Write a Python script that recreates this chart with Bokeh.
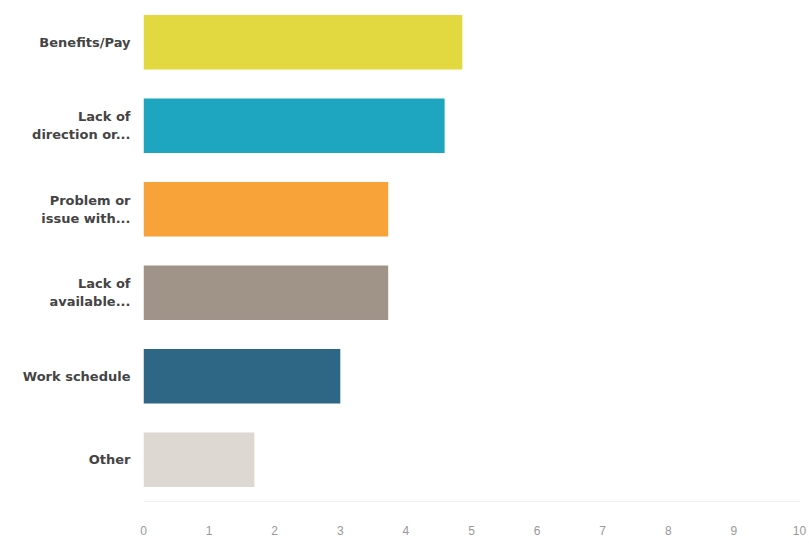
from bokeh.plotting import figure
from bokeh.models import ColumnDataSource, FactorRange, Range1d, FixedTicker
from bokeh.embed import file_html
from bokeh.resources import INLINE

categories = ["Benefits/Pay", "Lack of\ndirection or...", "Problem or\nissue with...",
              "Lack of\navailable...", "Work schedule", "Other"]
values = [4.86, 4.59, 3.73, 3.73, 3.00, 1.69]
colors = ["#e2d940", "#1ea5bf", "#f8a23a", "#a09488", "#2e6686", "#ddd8d1"]
x_ticks = [0, 1, 2, 3, 4, 5, 6, 7, 8, 9, 10]

src = ColumnDataSource(dict(cat=categories, val=values, color=colors))

p = figure(width=809, height=543, output_backend="svg", toolbar_location=None,
           y_range=FactorRange(factors=list(reversed(categories))),
           x_range=Range1d(0, 10))
p.min_border_left = 143
p.min_border_right = 10
p.min_border_top = 0
p.min_border_bottom = 42
p.outline_line_color = None
p.background_fill_color = "white"
p.border_fill_color = "white"

p.hbar(y="cat", right="val", left=0, height=0.65, color="color", source=src, line_color=None)

p.xgrid.grid_line_color = None
p.ygrid.grid_line_color = None

xa = p.xaxis[0]
xa.ticker = FixedTicker(ticks=x_ticks)
xa.axis_line_color = "#f0f0f0"
xa.major_tick_line_color = None
xa.minor_tick_line_color = None
xa.major_label_text_color = "#999999"
xa.major_label_text_font = "Liberation Sans"
xa.major_label_text_font_size = "12px"
xa.major_label_standoff = 18

ya = p.yaxis[0]
ya.axis_line_color = None
ya.major_tick_line_color = None
ya.minor_tick_line_color = None
ya.major_label_text_color = "#444444"
ya.major_label_text_font = "DejaVu Sans"
ya.major_label_text_font_style = "bold"
ya.major_label_text_font_size = "13px"
ya.major_label_standoff = 7
ya.major_label_text_align = "right"

open("out.html", "w").write(file_html(p, INLINE))
